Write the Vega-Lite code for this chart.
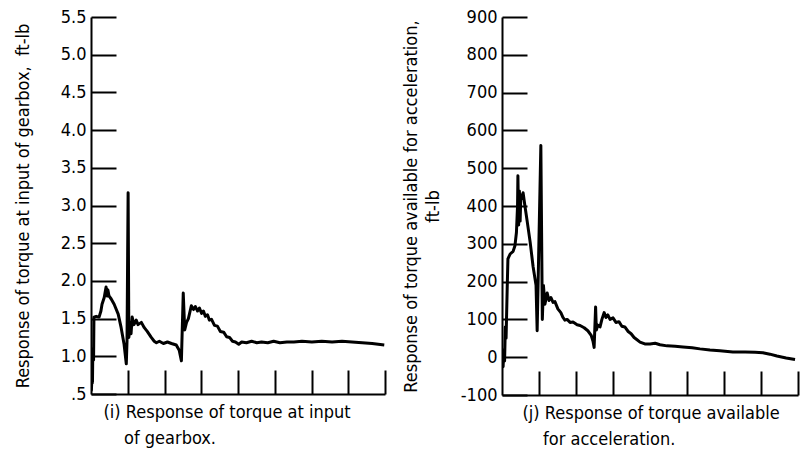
{
  "$schema": "https://vega.github.io/schema/vega-lite/v6.json",
  "background": "white",
  "padding": {"left": 14, "top": 8, "right": 3, "bottom": 4},
  "spacing": 16,
  "datasets": {
    "gearbox": [
      {"t": 0.0, "torque": 0.58}, {"t": 0.01, "torque": 0.55}, {"t": 0.03, "torque": 0.75},
      {"t": 0.04, "torque": 0.65}, {"t": 0.05, "torque": 1.1}, {"t": 0.07, "torque": 0.95},
      {"t": 0.08, "torque": 1.52}, {"t": 0.14, "torque": 1.53}, {"t": 0.22, "torque": 1.52},
      {"t": 0.27, "torque": 1.6}, {"t": 0.3, "torque": 1.69}, {"t": 0.36, "torque": 1.78},
      {"t": 0.41, "torque": 1.92}, {"t": 0.44, "torque": 1.8}, {"t": 0.46, "torque": 1.88},
      {"t": 0.49, "torque": 1.8}, {"t": 0.55, "torque": 1.76}, {"t": 0.63, "torque": 1.69},
      {"t": 0.74, "torque": 1.56}, {"t": 0.82, "torque": 1.38}, {"t": 0.9, "torque": 1.16},
      {"t": 0.96, "torque": 0.9}, {"t": 0.98, "torque": 1.2}, {"t": 1.01, "torque": 3.17},
      {"t": 1.03, "torque": 1.25}, {"t": 1.07, "torque": 1.45}, {"t": 1.09, "torque": 1.3},
      {"t": 1.12, "torque": 1.52}, {"t": 1.17, "torque": 1.42}, {"t": 1.23, "torque": 1.48},
      {"t": 1.28, "torque": 1.42}, {"t": 1.37, "torque": 1.45}, {"t": 1.45, "torque": 1.38},
      {"t": 1.53, "torque": 1.33}, {"t": 1.64, "torque": 1.25}, {"t": 1.72, "torque": 1.2},
      {"t": 1.78, "torque": 1.18}, {"t": 1.86, "torque": 1.2}, {"t": 1.97, "torque": 1.17},
      {"t": 2.08, "torque": 1.19}, {"t": 2.19, "torque": 1.17}, {"t": 2.32, "torque": 1.15},
      {"t": 2.4, "torque": 1.08}, {"t": 2.46, "torque": 0.94}, {"t": 2.51, "torque": 1.84},
      {"t": 2.55, "torque": 1.35}, {"t": 2.6, "torque": 1.45}, {"t": 2.65, "torque": 1.5},
      {"t": 2.73, "torque": 1.67}, {"t": 2.79, "torque": 1.62}, {"t": 2.84, "torque": 1.66},
      {"t": 2.9, "torque": 1.6}, {"t": 2.95, "torque": 1.64}, {"t": 3.01, "torque": 1.57},
      {"t": 3.06, "torque": 1.6}, {"t": 3.11, "torque": 1.53}, {"t": 3.17, "torque": 1.55},
      {"t": 3.22, "torque": 1.48}, {"t": 3.28, "torque": 1.49}, {"t": 3.36, "torque": 1.41},
      {"t": 3.44, "torque": 1.4}, {"t": 3.52, "torque": 1.33}, {"t": 3.61, "torque": 1.32},
      {"t": 3.69, "torque": 1.26}, {"t": 3.77, "torque": 1.25}, {"t": 3.85, "torque": 1.2},
      {"t": 3.93, "torque": 1.19}, {"t": 4.02, "torque": 1.16}, {"t": 4.1, "torque": 1.19},
      {"t": 4.23, "torque": 1.18}, {"t": 4.37, "torque": 1.2}, {"t": 4.51, "torque": 1.18},
      {"t": 4.64, "torque": 1.19}, {"t": 4.81, "torque": 1.18}, {"t": 4.97, "torque": 1.2},
      {"t": 5.14, "torque": 1.18}, {"t": 5.33, "torque": 1.19}, {"t": 5.52, "torque": 1.19},
      {"t": 5.74, "torque": 1.2}, {"t": 6.01, "torque": 1.19}, {"t": 6.28, "torque": 1.2},
      {"t": 6.56, "torque": 1.19}, {"t": 6.83, "torque": 1.2}, {"t": 7.1, "torque": 1.19},
      {"t": 7.38, "torque": 1.18}, {"t": 7.65, "torque": 1.17}, {"t": 7.98, "torque": 1.15}
    ],
    "acceleration": [
      {"t": 0.01, "torque": -20}, {"t": 0.03, "torque": -25}, {"t": 0.05, "torque": 20},
      {"t": 0.07, "torque": -10}, {"t": 0.09, "torque": 80}, {"t": 0.11, "torque": 50},
      {"t": 0.14, "torque": 180}, {"t": 0.16, "torque": 260}, {"t": 0.22, "torque": 273},
      {"t": 0.3, "torque": 280}, {"t": 0.35, "torque": 295}, {"t": 0.39, "torque": 330},
      {"t": 0.42, "torque": 400}, {"t": 0.43, "torque": 480}, {"t": 0.45, "torque": 350},
      {"t": 0.47, "torque": 440}, {"t": 0.49, "torque": 360}, {"t": 0.51, "torque": 430},
      {"t": 0.54, "torque": 420}, {"t": 0.57, "torque": 435}, {"t": 0.62, "torque": 400},
      {"t": 0.68, "torque": 360}, {"t": 0.76, "torque": 305}, {"t": 0.84, "torque": 240},
      {"t": 0.92, "torque": 190}, {"t": 0.95, "torque": 70}, {"t": 1.05, "torque": 560},
      {"t": 1.09, "torque": 100}, {"t": 1.12, "torque": 190}, {"t": 1.16, "torque": 140},
      {"t": 1.22, "torque": 170}, {"t": 1.27, "torque": 150}, {"t": 1.32, "torque": 158},
      {"t": 1.38, "torque": 145}, {"t": 1.43, "torque": 147}, {"t": 1.51, "torque": 128},
      {"t": 1.59, "torque": 118}, {"t": 1.65, "torque": 105}, {"t": 1.7, "torque": 98},
      {"t": 1.76, "torque": 100}, {"t": 1.84, "torque": 92}, {"t": 1.92, "torque": 93},
      {"t": 2.03, "torque": 86}, {"t": 2.11, "torque": 84}, {"t": 2.22, "torque": 78},
      {"t": 2.32, "torque": 70}, {"t": 2.41, "torque": 58}, {"t": 2.46, "torque": 42},
      {"t": 2.49, "torque": 26}, {"t": 2.53, "torque": 133}, {"t": 2.55, "torque": 72},
      {"t": 2.59, "torque": 85}, {"t": 2.65, "torque": 80}, {"t": 2.7, "torque": 100},
      {"t": 2.76, "torque": 118}, {"t": 2.81, "torque": 105}, {"t": 2.86, "torque": 112},
      {"t": 2.92, "torque": 100}, {"t": 3.0, "torque": 104}, {"t": 3.08, "torque": 92},
      {"t": 3.16, "torque": 94}, {"t": 3.24, "torque": 82}, {"t": 3.32, "torque": 80},
      {"t": 3.41, "torque": 68}, {"t": 3.49, "torque": 62}, {"t": 3.57, "torque": 52},
      {"t": 3.65, "torque": 46}, {"t": 3.73, "torque": 40}, {"t": 3.86, "torque": 35},
      {"t": 4.0, "torque": 35}, {"t": 4.14, "torque": 37}, {"t": 4.27, "torque": 33},
      {"t": 4.46, "torque": 30}, {"t": 4.68, "torque": 29}, {"t": 4.89, "torque": 27},
      {"t": 5.14, "torque": 25}, {"t": 5.35, "torque": 22}, {"t": 5.62, "torque": 19},
      {"t": 5.89, "torque": 17}, {"t": 6.24, "torque": 14}, {"t": 6.57, "torque": 14},
      {"t": 6.84, "torque": 13}, {"t": 7.05, "torque": 12}, {"t": 7.24, "torque": 8},
      {"t": 7.43, "torque": 3}, {"t": 7.68, "torque": -2}, {"t": 7.92, "torque": -6}
    ]
  },
  "config": {
    "view": {"stroke": null},
    "font": "'DejaVu Sans Condensed', 'Liberation Sans', sans-serif",
    "axis": {
      "grid": false,
      "domainColor": "black",
      "domainWidth": 2,
      "tickColor": "black",
      "tickWidth": 2,
      "labelColor": "black",
      "titleColor": "black",
      "labelFont": "'DejaVu Sans Condensed', 'Liberation Sans', sans-serif",
      "titleFont": "'DejaVu Sans Condensed', 'Liberation Sans', sans-serif",
      "labelFontSize": 18,
      "titleFontSize": 18,
      "titleFontWeight": "normal"
    }
  },
  "hconcat": [
    {
      "width": 294,
      "height": 377,
      "data": {"name": "gearbox"},
      "mark": {"type": "line", "color": "black", "strokeWidth": 3, "strokeJoin": "round", "clip": true},
      "encoding": {
        "x": {
          "field": "t", "type": "quantitative",
          "scale": {"domain": [0, 8], "nice": false},
          "axis": {
            "values": [1, 2, 3, 4, 5, 6, 7, 8],
            "labels": false,
            "tickSize": -24,
            "title": ["(i) Response of torque at input", "\u200b\u00a0\u00a0\u00a0\u00a0of gearbox."],
            "titleAnchor": "start",
            "titleAlign": "left",
            "titleX": 12,
            "titleLineHeight": 26,
            "titlePadding": 8
          }
        },
        "y": {
          "field": "torque", "type": "quantitative",
          "scale": {"domain": [0.5, 5.5], "nice": false, "zero": false},
          "axis": {
            "values": [0.5, 1, 1.5, 2, 2.5, 3, 3.5, 4, 4.5, 5, 5.5],
            "labelExpr": "datum.value == 0.5 ? '.5' : format(datum.value, '.1f')",
            "tickSize": -25,
            "labelPadding": 30,
            "title": "Response of torque at input of gearbox,\u00a0\u00a0ft-lb",
            "titlePadding": 28
          }
        }
      }
    },
    {
      "width": 296,
      "height": 378,
      "data": {"name": "acceleration"},
      "mark": {"type": "line", "color": "black", "strokeWidth": 3, "strokeJoin": "round", "clip": true},
      "encoding": {
        "x": {
          "field": "t", "type": "quantitative",
          "scale": {"domain": [0, 8], "nice": false},
          "axis": {
            "values": [1, 2, 3, 4, 5, 6, 7, 8],
            "labels": false,
            "tickSize": -24,
            "title": ["(j) Response of torque available", "\u200b\u00a0\u00a0\u00a0\u00a0for acceleration."],
            "titleAnchor": "start",
            "titleAlign": "left",
            "titleX": 20,
            "titleLineHeight": 26,
            "titlePadding": 8
          }
        },
        "y": {
          "field": "torque", "type": "quantitative",
          "scale": {"domain": [-100, 900], "nice": false, "zero": false},
          "axis": {
            "values": [-100, 0, 100, 200, 300, 400, 500, 600, 700, 800, 900],
            "labelExpr": "'' + datum.value",
            "tickSize": -25,
            "labelPadding": 30,
            "title": ["Response of torque available for acceleration,", "ft-lb"],
            "titleLineHeight": 22,
            "titlePadding": 18
          }
        }
      }
    }
  ]
}
